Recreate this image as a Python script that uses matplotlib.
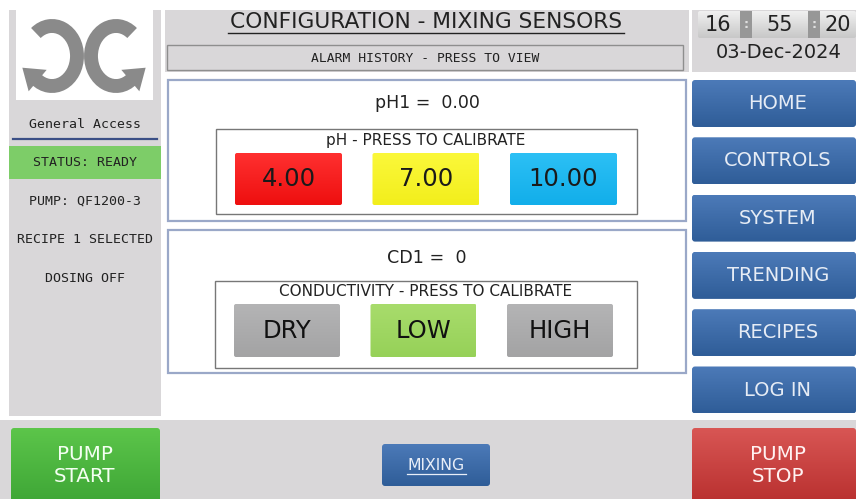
import matplotlib
matplotlib.use("Agg")
import matplotlib.pyplot as plt
from matplotlib.patches import Rectangle, FancyBboxPatch, Arc, Polygon
import numpy as np

# screen texts
title = "CONFIGURATION - MIXING SENSORS"
alarm_text = "ALARM HISTORY - PRESS TO VIEW"
left_texts = ["PUMP: QF1200-3", "RECIPE 1 SELECTED", "DOSING OFF"]
clock = ["16", "55", "20"]
date_text = "03-Dec-2024"
nav_labels = ["HOME", "CONTROLS", "SYSTEM", "TRENDING", "RECIPES", "LOG IN"]
ph_reading = "pH1 =  0.00"
ph_buttons = ["4.00", "7.00", "10.00"]
ph_colors = [("#ff3030", "#ee0f0f"), ("#fbf83a", "#f2ee1c"), ("#2cc0f5", "#12aeea")]
cd_reading = "CD1 =  0"
cd_buttons = ["DRY", "LOW", "HIGH"]
cd_colors = [("#b4b4b5", "#a3a3a4"), ("#a8dc6c", "#96d158"), ("#b4b4b5", "#a3a3a4")]

W, H = 856, 499
fig = plt.figure(figsize=(W / 100, H / 100), dpi=100)
ax = fig.add_axes([0, 0, 1, 1])
ax.set_xlim(0, W)
ax.set_ylim(H, 0)
ax.axis("off")

SANS = "DejaVu Sans"
MONO = "DejaVu Sans Mono"
PANEL = "#d9d7d9"


def box(x, y, w, h, fc, ec="none", lw=0, z=1):
    ax.add_patch(Rectangle((x, y), w, h, facecolor=fc, edgecolor=ec, linewidth=lw, zorder=z))


def grad_button(x, y, w, h, top, bottom, r=3, z=3):
    p = FancyBboxPatch((x, y), w, h, boxstyle="round,pad=0,rounding_size=%d" % r,
                       facecolor="none", edgecolor="none", zorder=z)
    ax.add_patch(p)
    c1 = np.array(matplotlib.colors.to_rgb(top))
    c2 = np.array(matplotlib.colors.to_rgb(bottom))
    t = np.linspace(0, 1, 64)[:, None]
    img = (c1 * (1 - t) + c2 * t)[:, None, :]
    im = ax.imshow(img, extent=(x, x + w, y + h, y), aspect="auto", zorder=z)
    im.set_clip_path(p)


def label(x, y, s, size, color="#222222", family=SANS, weight="normal"):
    ax.text(x, y, s, fontsize=size, color=color, family=family, weight=weight,
            ha="center", va="center", zorder=10)


def logo_half(cx, cy, flip):
    # one curved arrow of the logo; flip mirrors it around x = 84
    rx, ry, a = 25, 30, 125
    if flip:
        cx = 168 - cx
    t1, t2 = (-a, a) if not flip else (180 - a, 180 + a)
    ax.add_patch(Arc((cx, cy), 2 * rx, 2 * ry, theta1=t1, theta2=t2,
                     color="#8a8a8a", lw=10, zorder=3))
    th = np.radians(a)
    ex, ey = cx + rx * np.cos(th) * (-1 if flip else 1), cy + ry * np.sin(th)
    d = np.array([-rx * np.sin(th) * (-1 if flip else 1), ry * np.cos(th)])
    d = d / np.hypot(*d)
    n = np.array([-d[1], d[0]])
    tip = np.array([ex, ey]) + 20 * d
    c1 = np.array([ex, ey]) + 14 * n
    c2 = np.array([ex, ey]) - 14 * n
    ax.add_patch(Polygon([tip, c1, c2], closed=True, facecolor="#8a8a8a",
                         edgecolor="none", zorder=3))


# background
box(0, 0, W, H, "white", z=0)

# left panel
box(9, 10, 152, 406, PANEL)
box(16, 10, 137, 90, "white", z=2)
logo_half(52, 56, False)
logo_half(52, 56, True)
label(85, 124, "General Access", 9.5, family=MONO)
ax.plot([13, 157], [139, 139], color="#3b4f86", lw=1.6, zorder=3)
box(9, 146, 152, 33, "#7dcd68", z=2)
label(85, 162, "STATUS: READY", 9.5, family=MONO)
for i, s in enumerate(left_texts):
    label(85, 201 + 38.5 * i, s, 9.5, family=MONO)

# header
box(165, 10, 524, 62, PANEL)
label(426, 22, title, 15.7)
ax.plot([228, 624], [33, 33], color="#222222", lw=1, zorder=10)
box(167, 45, 516, 25, PANEL, ec="#8e8e8e", lw=1, z=2)
label(425, 58, alarm_text, 9.4, family=MONO)

# pH panel
box(168, 80, 518, 141, "white", ec="#9aa8c8", lw=1.6, z=2)
label(427, 103, ph_reading, 12.5)
box(216, 129, 421, 85, "white", ec="#777777", lw=1, z=3)
label(426, 140, "pH - PRESS TO CALIBRATE", 11)
for i, (s, c) in enumerate(zip(ph_buttons, ph_colors)):
    x0 = 235 + 137.5 * i
    grad_button(x0, 153, 107, 52, c[0], c[1], r=2, z=4)
    label(x0 + 53.5, 179.5, s, 17.5, color="#1a1a1a")

# CD panel
box(168, 230, 518, 143, "white", ec="#9aa8c8", lw=1.6, z=2)
label(427, 258, cd_reading, 12.6)
box(215, 281, 422, 87, "white", ec="#777777", lw=1, z=3)
label(426, 291, "CONDUCTIVITY - PRESS TO CALIBRATE", 11)
for i, (s, c) in enumerate(zip(cd_buttons, cd_colors)):
    x0 = 234 + 136.5 * i
    grad_button(x0, 304, 106, 53, c[0], c[1], r=2, z=4)
    label(x0 + 53, 330.5, s, 17.5, color="#111111")

# right: clock and date
box(692, 10, 164, 62, PANEL)
grad_button(698, 11, 158, 27, "#f0f0f0", "#c8c8c8", r=2, z=2)
for xc in [746, 814]:
    box(xc - 6, 11, 12, 27, "#979797", z=4)
    label(xc, 24, ":", 9, color="#e0e0e0", weight="bold")
for xc, s in zip([718, 780, 838], clock):
    label(xc, 24.5, s, 15)
label(779, 52, date_text, 14)

# nav buttons
for i, s in enumerate(nav_labels):
    y0 = 80 + 57.3 * i
    grad_button(692, y0, 164, 47, "#4c7ab8", "#2f5d98", r=3)
    label(778, y0 + 23.5, s, 14, color="#e6ecf5")

# bottom bar
box(0, 420, W, 79, PANEL)
grad_button(11, 428, 149, 75, "#5cc54a", "#3ea636", r=3)
label(85, 465, "PUMP\nSTART", 14.3, color="#f4fff2")
grad_button(692, 428, 164, 75, "#d85654", "#b9302f", r=3)
label(778, 465, "PUMP\nSTOP", 14.3, color="#fff2f2")
grad_button(382, 444, 108, 42, "#4c7ab8", "#2f5d98", r=3)
label(436, 465, "MIXING", 11.3, color="#e8eef8")
ax.plot([407, 466], [474, 474], color="#e8eef8", lw=0.9, zorder=11)

fig.savefig("out.png", dpi=100)
